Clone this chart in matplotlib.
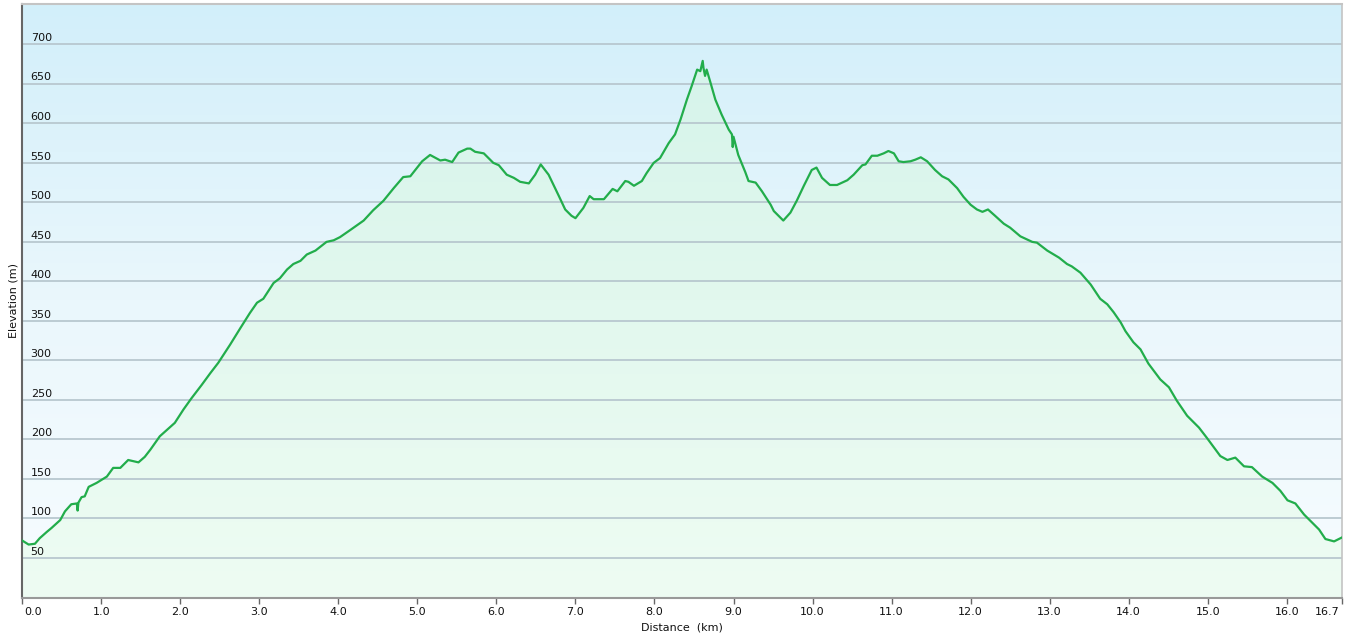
import numpy as np
import matplotlib
matplotlib.use("Agg")
import matplotlib.pyplot as plt
from matplotlib.patches import Polygon
from matplotlib.colors import LinearSegmentedColormap
import matplotlib.transforms as mtransforms

# ---- data ----
dist_km = [0.0, 0.08, 0.16, 0.22, 0.31, 0.37, 0.48, 0.54, 0.62, 0.69, 0.70, 0.71, 0.75, 0.79, 0.84,
           0.94, 1.07, 1.15, 1.24, 1.34, 1.47, 1.55, 1.62, 1.74, 1.83, 1.93, 2.04, 2.14, 2.27, 2.38,
           2.48, 2.63, 2.76, 2.88, 2.97, 3.05, 3.18, 3.26, 3.35, 3.43, 3.52, 3.60, 3.71, 3.85, 3.94,
           4.02, 4.15, 4.32, 4.44, 4.57, 4.70, 4.82, 4.91, 5.06, 5.16, 5.29, 5.35, 5.44, 5.52, 5.63,
           5.67, 5.73, 5.84, 5.96, 6.03, 6.13, 6.22, 6.30, 6.41, 6.49, 6.56, 6.66, 6.79, 6.87, 6.95,
           7.00, 7.10, 7.18, 7.23, 7.36, 7.47, 7.53, 7.63, 7.67, 7.74, 7.84, 7.90, 7.99, 8.07, 8.18,
           8.26, 8.33, 8.41, 8.47, 8.54, 8.58, 8.61, 8.62, 8.64, 8.66, 8.71, 8.77, 8.85, 8.94, 8.98,
           8.99, 9.00, 9.06, 9.15, 9.19, 9.28, 9.36, 9.47, 9.51, 9.57, 9.63, 9.72, 9.80, 9.89, 9.99,
           10.05, 10.12, 10.22, 10.31, 10.44, 10.52, 10.63, 10.67, 10.75, 10.82, 10.90, 10.96, 11.03,
           11.09, 11.15, 11.24, 11.30, 11.37, 11.45, 11.55, 11.64, 11.72, 11.83, 11.91, 12.00, 12.08,
           12.15, 12.22, 12.31, 12.42, 12.50, 12.63, 12.78, 12.84, 12.97, 13.12, 13.22, 13.28, 13.39,
           13.52, 13.64, 13.73, 13.81, 13.90, 13.96, 14.06, 14.15, 14.25, 14.40, 14.51, 14.61, 14.74,
           14.89, 14.99, 15.16, 15.25, 15.35, 15.46, 15.56, 15.69, 15.82, 15.92, 16.01, 16.11, 16.22,
           16.32, 16.41, 16.49, 16.60, 16.66, 16.70]
elevation_m = [72, 67, 68, 75, 83, 88, 98, 109, 118, 119, 110, 120, 127, 128, 140,
               145, 153, 164, 164, 174, 171, 178, 187, 204, 212, 221, 238, 252, 269, 284,
               297, 320, 341, 360, 373, 378, 398, 404, 415, 422, 426, 434, 439, 450, 452,
               456, 465, 477, 490, 502, 518, 532, 533, 552, 560, 553, 554, 551, 563, 568,
               568, 564, 562, 550, 547, 535, 531, 526, 524, 535, 548, 535, 508, 491, 483,
               480, 493, 508, 504, 504, 517, 514, 527, 526, 521, 527, 537, 550, 556, 575,
               586, 605, 630, 647, 668, 666, 679, 670, 660, 668, 651, 630, 611, 592, 586,
               570, 583, 560, 538, 527, 525, 514, 497, 489, 483, 477, 487, 502, 521, 541,
               544, 531, 522, 522, 528, 535, 547, 548, 559, 559, 562, 565, 562,
               552, 551, 552, 554, 557, 552, 541, 533, 529, 518, 507, 497, 491,
               488, 491, 483, 473, 468, 457, 450, 449, 439, 430, 422, 419, 411,
               396, 378, 371, 361, 348, 337, 323, 314, 296, 276, 266, 249, 230,
               215, 202, 179, 174, 177, 166, 165, 153, 145, 135, 123, 119, 105,
               95, 86, 74, 71, 74, 76]
x_ticks = [0.0, 1.0, 2.0, 3.0, 4.0, 5.0, 6.0, 7.0, 8.0, 9.0, 10.0, 11.0, 12.0, 13.0, 14.0, 15.0, 16.0, 16.7]
x_tick_labels = ["0.0", "1.0", "2.0", "3.0", "4.0", "5.0", "6.0", "7.0", "8.0", "9.0", "10.0",
                 "11.0", "12.0", "13.0", "14.0", "15.0", "16.0", "16.7"]
y_ticks = [50, 100, 150, 200, 250, 300, 350, 400, 450, 500, 550, 600, 650, 700]
x_label = "Distance  (km)"
y_label = "Elevation (m)"

X_MAX = 16.7
Y_MAX = 751

W, H = 1345, 643
fig = plt.figure(figsize=(W / 100, H / 100), dpi=100)
fig.patch.set_facecolor("white")
ax = fig.add_axes([22.3 / W, 45.5 / H, (1342 - 22.3) / W, (598 - 4.5) / H])

# background gradient (blue top -> near white bottom)
bg_cmap = LinearSegmentedColormap.from_list("bg", ["#f7fcff", "#eaf7fc", "#d2effa"])
grad = np.linspace(0, 1, 256).reshape(-1, 1)
ax.imshow(grad, extent=[0, X_MAX, 0, Y_MAX], origin="lower", aspect="auto",
          cmap=bg_cmap, zorder=0, interpolation="bicubic")

# fill gradient under the curve
fill_cmap = LinearSegmentedColormap.from_list("fill", ["#eefcf3", "#e2f8ee", "#d3f3ea"])
img = ax.imshow(grad, extent=[0, X_MAX, 0, Y_MAX], origin="lower", aspect="auto",
                cmap=fill_cmap, zorder=0.2, interpolation="bicubic")
verts = list(zip(dist_km, elevation_m)) + [(dist_km[-1], 0), (dist_km[0], 0)]
poly = Polygon(verts, closed=True, facecolor="none", edgecolor="none", transform=ax.transData)
ax.add_patch(poly)
img.set_clip_path(poly)

ax.plot(dist_km, elevation_m, color="#22ad4b", lw=1.6, zorder=3, solid_joinstyle="round")

ax.set_xlim(0, X_MAX)
ax.set_ylim(0, Y_MAX)

# grid
ax.set_yticks(y_ticks)
ax.yaxis.grid(True, color="#b8c8cf", lw=1.3)
ax.tick_params(axis="y", length=0, labelleft=False)

trans = mtransforms.blended_transform_factory(ax.transAxes, ax.transData)
for v in y_ticks:
    ax.annotate(str(v), xy=(0, v), xycoords=trans, xytext=(6, 2.4), textcoords="offset points",
                ha="left", va="baseline", fontsize=8, color="#111111", zorder=4)

ax.set_xticks(x_ticks)
ax.set_xticklabels(x_tick_labels, fontsize=8, color="#111111")
ax.tick_params(axis="x", direction="out", length=4, width=1, color="#666666", pad=3)
xt_labels = ax.get_xticklabels()
xt_labels[0].set_horizontalalignment("left")
xt_labels[-1].set_horizontalalignment("right")
# small nudges so end labels sit like the reference
xt_labels[0].set_transform(xt_labels[0].get_transform() +
                           mtransforms.ScaledTranslation(1.5 / 100, 0, fig.dpi_scale_trans))
xt_labels[-1].set_transform(xt_labels[-1].get_transform() +
                            mtransforms.ScaledTranslation(-2 / 100, 0, fig.dpi_scale_trans))

ax.set_xlabel(x_label, fontsize=8, color="#111111", labelpad=4)
ax.set_ylabel(y_label, fontsize=8, color="#111111", labelpad=3)

ax.spines["left"].set_color("#666666")
ax.spines["left"].set_linewidth(1.5)
ax.spines["bottom"].set_color("#999999")
ax.spines["bottom"].set_linewidth(1.5)
ax.spines["top"].set_color("#c4c4c4")
ax.spines["top"].set_linewidth(1.5)
ax.spines["right"].set_color("#c4c4c4")
ax.spines["right"].set_linewidth(1.2)

fig.savefig("out.png", dpi=100)
